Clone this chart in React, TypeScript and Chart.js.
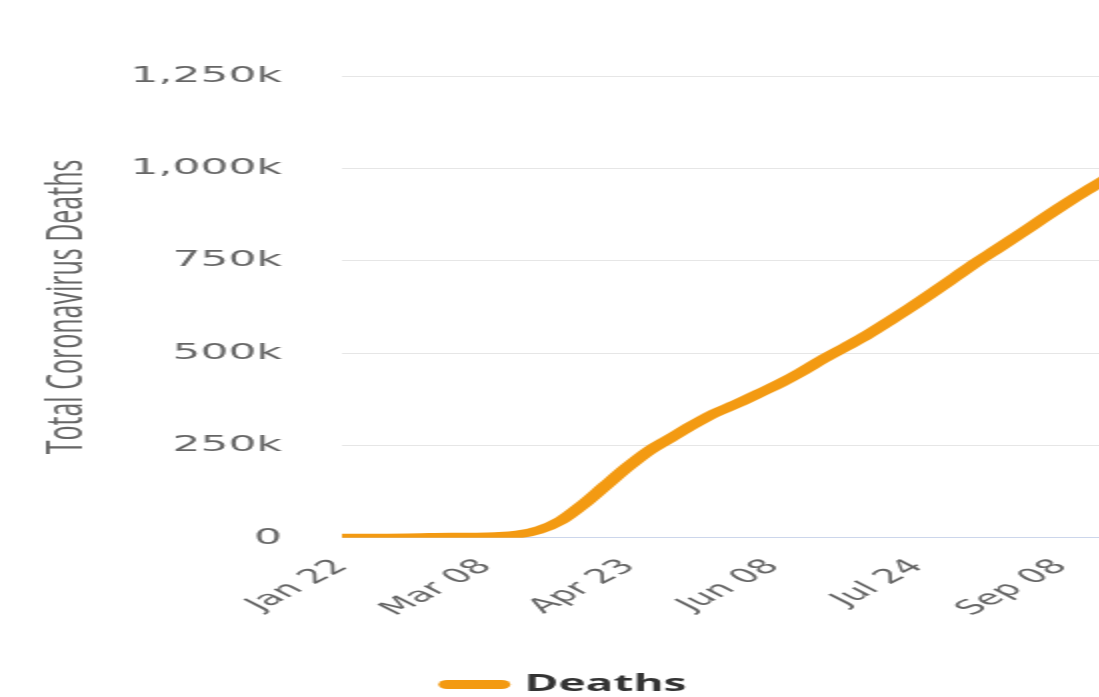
import { useEffect, useRef } from "react";
import { Chart, registerables } from "chart.js";

Chart.register(...registerables);

// ---- data ----
const startDate = "2020-01-22";
const dates = [
  "2020-01-22", "2020-01-29", "2020-02-05", "2020-02-12", "2020-02-19", "2020-02-26",
  "2020-03-04", "2020-03-11", "2020-03-18", "2020-03-25", "2020-04-01", "2020-04-08",
  "2020-04-15", "2020-04-22", "2020-04-29", "2020-05-06", "2020-05-13", "2020-05-20",
  "2020-05-27", "2020-06-03", "2020-06-10", "2020-06-17", "2020-06-24", "2020-07-01",
  "2020-07-08", "2020-07-15", "2020-07-22", "2020-07-29", "2020-08-05", "2020-08-12",
  "2020-08-19", "2020-08-26", "2020-09-02", "2020-09-09", "2020-09-16", "2020-09-23",
];
const deaths = [
  17, 170, 560, 1100, 2000, 2800,
  3200, 4600, 8700, 21300, 47000, 90000,
  140000, 190000, 235000, 270000, 305000, 337000,
  362000, 390000, 418000, 450000, 485000, 517000,
  550000, 587000, 625000, 665000, 706000, 747000,
  785000, 824000, 864000, 903000, 940000, 975000,
];
const xTickDates = ["2020-01-22", "2020-03-08", "2020-04-23", "2020-06-08", "2020-07-24", "2020-09-08"];
const xTickLabels = ["Jan 22", "Mar 08", "Apr 23", "Jun 08", "Jul 24", "Sep 08"];
const yTickValues = [0, 250000, 500000, 750000, 1000000, 1250000];
const yTickLabels = ["0", "250k", "500k", "750k", "1,000k", "1,250k"];
const seriesLabel = "Deaths";
const yAxisTitle = "Total Coronavirus Deaths";

const ORANGE = "#f39a12";

function dayIndex(d: string): number {
  return Math.round((Date.parse(d + "T00:00:00Z") - Date.parse(startDate + "T00:00:00Z")) / 86400000);
}

export default function App() {
  const ref = useRef<HTMLCanvasElement>(null);

  useEffect(() => {
    document.body.style.margin = "0";
    const points = dates.map((d, i) => ({ x: dayIndex(d), y: deaths[i] }));
    const lastDay = dayIndex(dates[dates.length - 1]);
    const defaultLabels = (Chart.defaults as any).plugins.legend.labels.generateLabels;
    const chart = new Chart(ref.current as HTMLCanvasElement, {
      type: "line",
      data: {
        datasets: [
          {
            label: seriesLabel,
            data: points,
            borderColor: ORANGE,
            backgroundColor: ORANGE,
            borderWidth: 8,
            borderCapStyle: "round",
            borderJoinStyle: "round",
            pointRadius: 0,
            cubicInterpolationMode: "monotone",
            fill: false,
          },
        ],
      },
      options: {
        animation: false,
        responsive: false,
        maintainAspectRatio: false,
        layout: { padding: { top: 76, right: 3, bottom: -9, left: 5 } },
        plugins: {
          legend: {
            position: "bottom",
            labels: {
              usePointStyle: true,
              pointStyle: "line",
              pointStyleWidth: 27,
              font: { family: "Open Sans", size: 23, weight: "bold" },
              color: "#333",
              padding: 1,
              generateLabels: (c: any) =>
                defaultLabels(c).map((it: any) => ({
                  ...it,
                  lineCap: "round",
                  lineWidth: 9,
                  strokeStyle: ORANGE,
                })),
            },
          },
          tooltip: { enabled: false },
        },
        scales: {
          x: {
            type: "linear",
            min: 0,
            max: lastDay,
            afterBuildTicks: (s: any) => {
              s.ticks = xTickDates.map((d) => ({ value: dayIndex(d) }));
            },
            afterFit: (s: any) => {
              s.height = s.height + 34;
            },
            ticks: {
              autoSkip: false,
              minRotation: 45,
              maxRotation: 45,
              padding: 17,
              font: { family: "DejaVu Sans", size: 20 },
              color: "#666",
              callback: (_v: any, i: number) => xTickLabels[i],
            },
            grid: { drawOnChartArea: false, drawTicks: false },
            border: { display: true, color: "#ccd6eb", width: 1 },
          },
          y: {
            min: 0,
            max: 1250000,
            afterBuildTicks: (s: any) => {
              s.ticks = yTickValues.map((v) => ({ value: v }));
            },
            afterFit: (s: any) => {
              s.width = 166;
            },
            ticks: {
              padding: 30,
              font: { family: "DejaVu Sans", size: 22 },
              color: "#666",
              callback: (_v: any, i: number) => yTickLabels[i],
            },
            grid: { color: "#e6e6e6", drawTicks: false },
            border: { display: false },
            title: {
              display: true,
              text: yAxisTitle,
              font: { family: "Open Sans", size: 25 },
              color: "#666",
              padding: { top: 14, bottom: 0 },
            },
          },
        },
      },
    } as any);
    return () => chart.destroy();
  }, []);

  return (
    <div
      style={{
        position: "fixed",
        left: 0,
        top: 0,
        width: 1099,
        height: 697,
        overflow: "hidden",
        background: "#fff",
      }}
    >
      <div style={{ width: 565, height: 697, transform: "scaleX(2)", transformOrigin: "0 0" }}>
        <canvas ref={ref} width={565} height={697} style={{ display: "block" }} />
      </div>
    </div>
  );
}
